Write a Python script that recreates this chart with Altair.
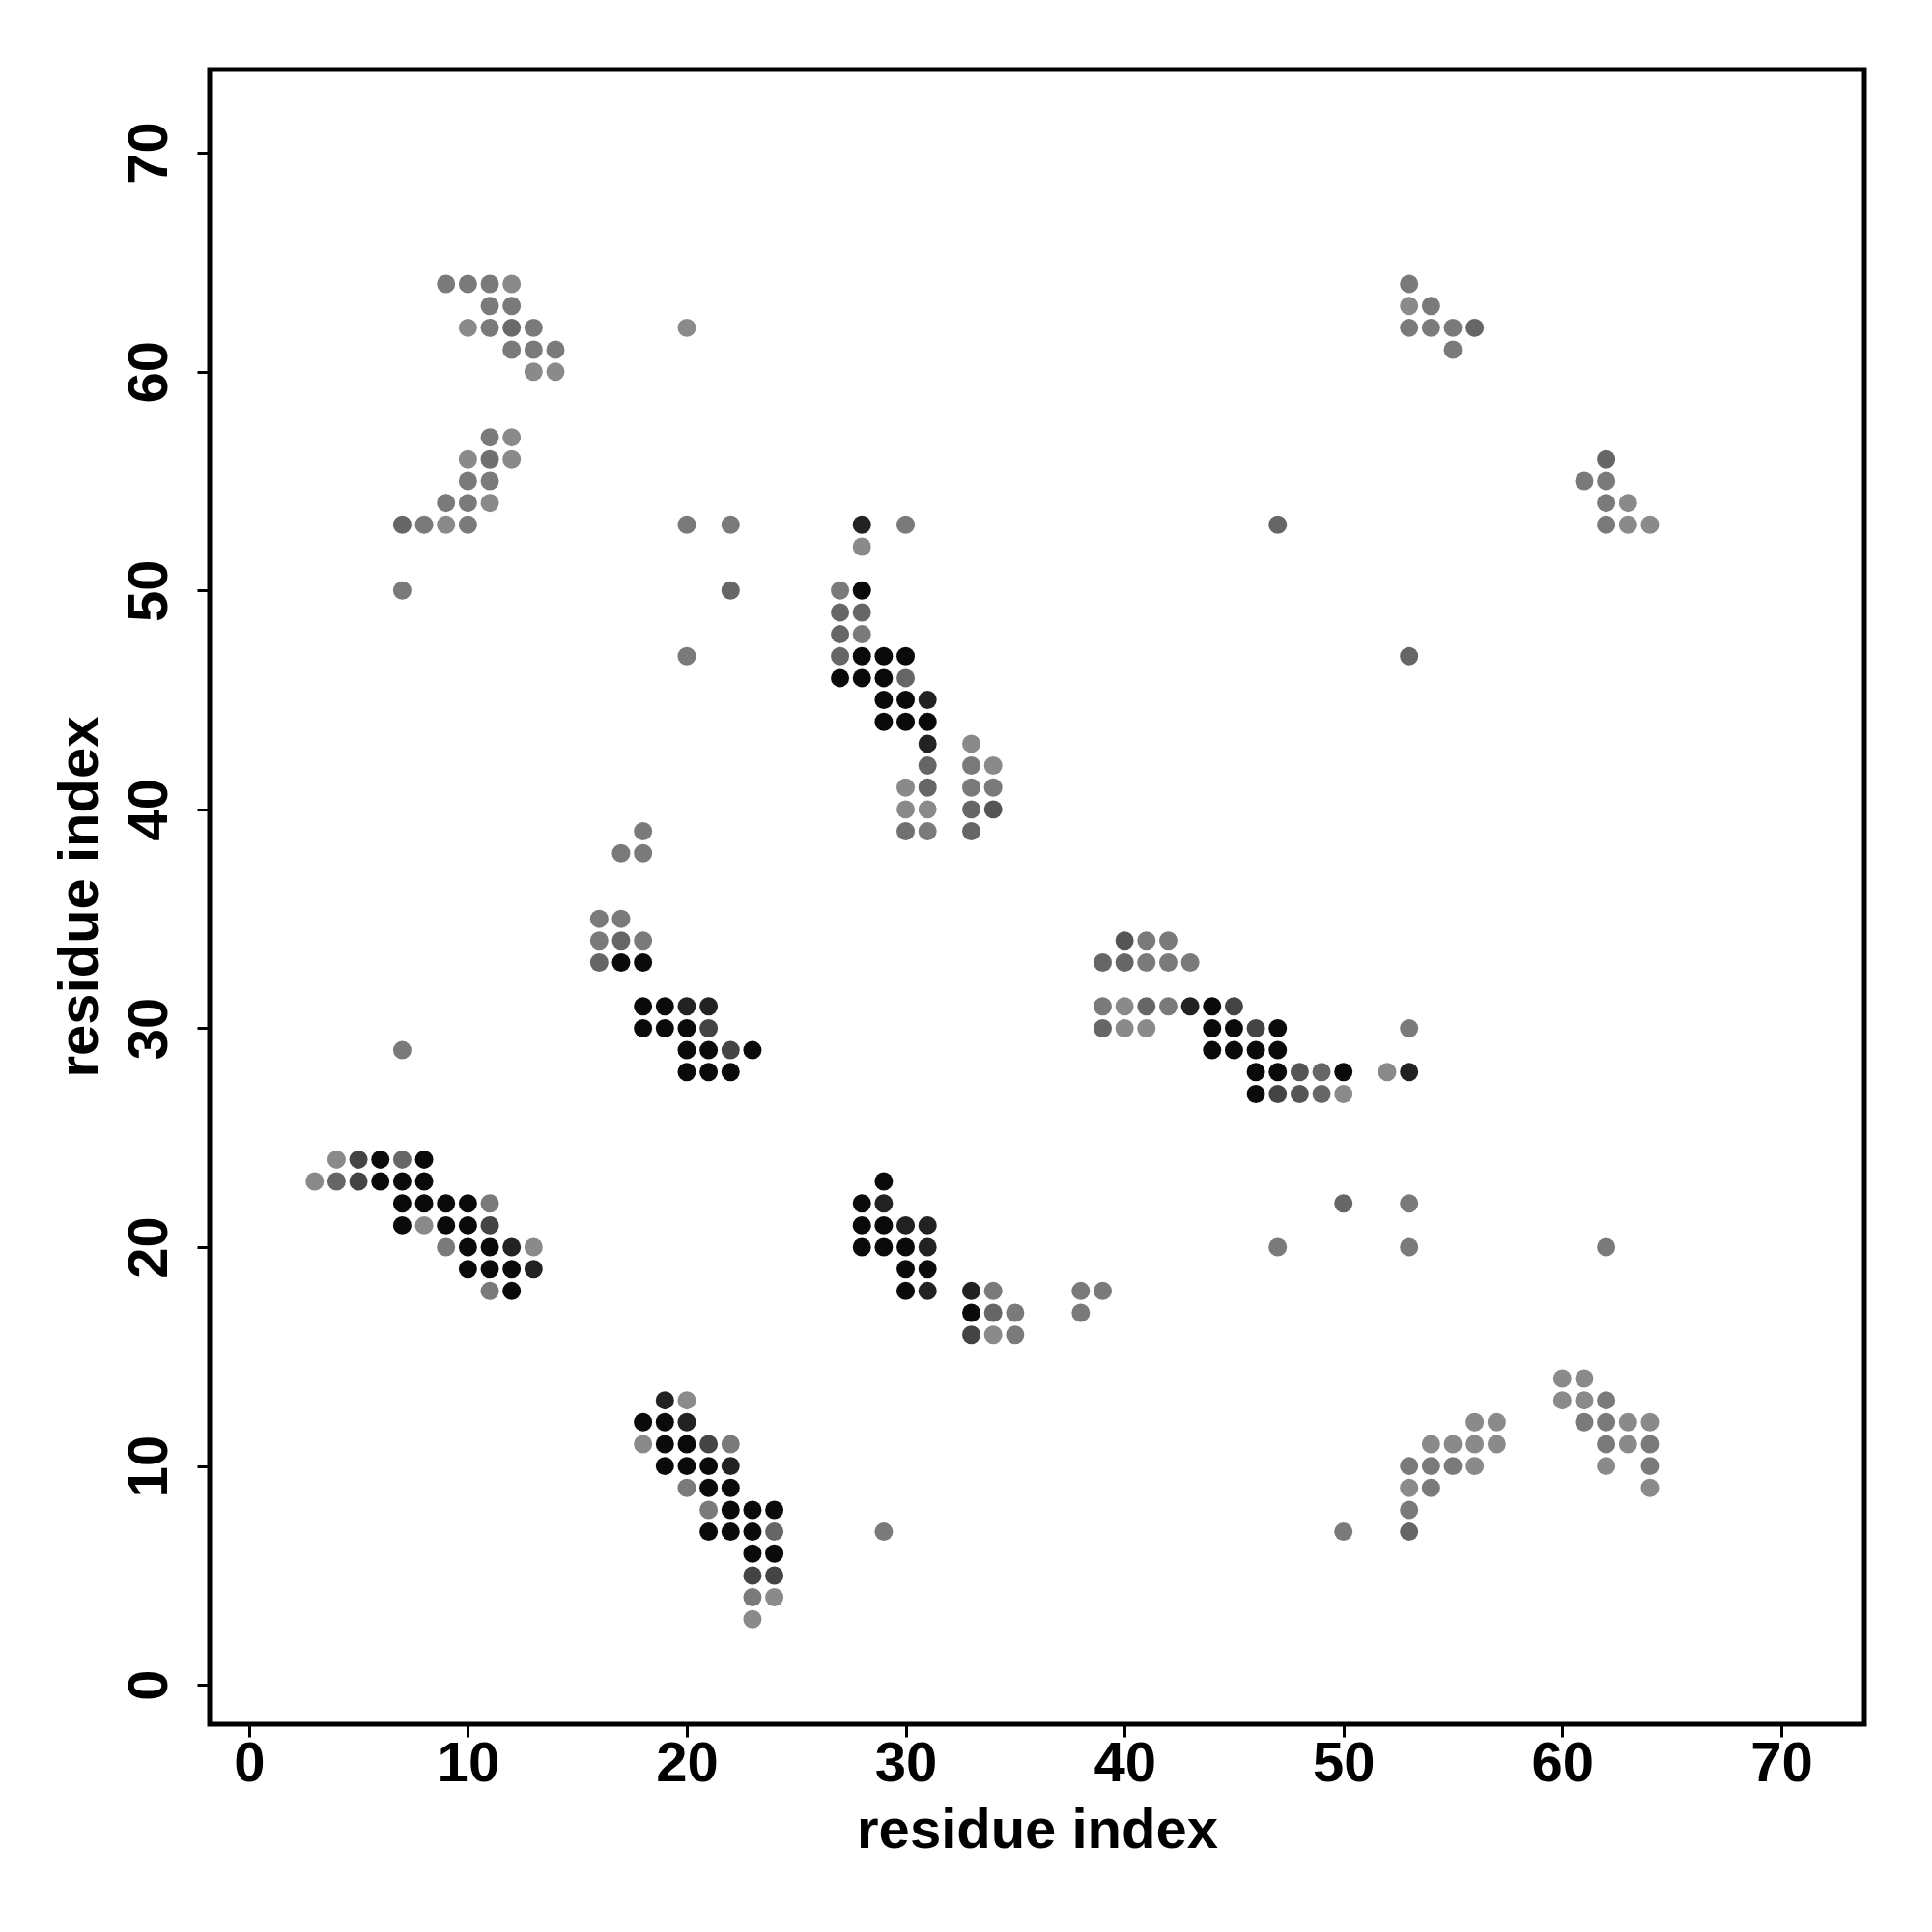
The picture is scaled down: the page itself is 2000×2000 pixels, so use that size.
import altair as alt
import pandas as pd

# gray levels (0 = black, 255 = white)
K, D1, D2, M, G, L = 10, 34, 68, 102, 122, 138

xs = [
    9, 10, 11, 12, 11, 12, 10, 11, 12, 13, 12, 13, 14, 13, 14,
    11, 12, 10, 11, 12, 10, 11, 9, 10, 11, 7, 8, 9, 10, 7,
    20, 20, 22, 22, 20, 7,
    53, 53, 54, 53, 54, 55, 56, 55,
    62, 61, 62, 62, 63, 62, 63, 64, 47, 53,
    28, 30, 28, 27, 28, 27, 28, 27, 28, 27, 28, 29, 30, 27, 28, 29, 30,
    29, 30, 31, 29, 30, 31, 31, 33, 31, 33, 34, 30, 31, 33, 34, 30, 31, 33, 34, 30, 31, 33,
    18, 17, 18, 16, 17, 16, 17, 18, 16, 17, 18,
    18, 19, 20, 21, 18, 19, 20, 21, 20, 21, 22, 23, 20, 21, 22,
    40, 41, 42, 39, 40, 41, 42, 43,
    39, 40, 41, 42, 43, 44, 45, 39, 40, 41, 44, 45, 46, 47,
    44, 45, 46, 47, 46, 47, 48, 49, 50, 46, 47, 48, 49, 50, 52, 53, 53,
    4, 5, 6, 7, 8, 3, 4, 5, 6, 7, 8,
    7, 8, 9, 10, 11, 7, 8, 9, 10, 11, 9, 10, 11, 12, 13, 10, 11, 12, 13, 11, 12,
    29, 28, 29, 28, 29, 30, 31, 28, 29, 30, 31, 30, 31, 30, 31,
    33, 34, 33, 34, 35, 33, 34, 35, 38, 39, 38,
    50, 53, 47, 53, 62, 29, 50,
    19, 20, 18, 19, 20, 18, 19, 20, 21, 22, 19, 20, 21, 22, 20, 21, 22,
    21, 22, 23, 24, 21, 22, 23, 24, 23, 24, 23, 24, 23, 24, 23,
    56, 57, 54, 55, 56, 57, 53, 54, 55, 56, 53, 54, 53, 53,
    60, 61, 60, 61, 62, 61, 62, 63, 64, 62, 63, 64, 62, 64, 64,
]
ys = [
    64, 64, 64, 64, 63, 63, 62, 62, 62, 62, 61, 61, 61, 60, 60,
    57, 57, 56, 56, 56, 55, 55, 54, 54, 54, 53, 53, 53, 53, 50,
    62, 53, 53, 50, 47, 29,
    64, 63, 63, 62, 62, 62, 62, 61,
    56, 55, 55, 54, 54, 53, 53, 53, 53, 47,
    53, 53, 52, 50, 50, 49, 49, 48, 48, 47, 47, 47, 47, 46, 46, 46, 46,
    45, 45, 45, 44, 44, 44, 43, 43, 42, 42, 42, 41, 41, 41, 41, 40, 40, 40, 40, 39, 39, 39,
    39, 38, 38, 35, 35, 34, 34, 34, 33, 33, 33,
    31, 31, 31, 31, 30, 30, 30, 30, 29, 29, 29, 29, 28, 28, 28,
    34, 34, 34, 33, 33, 33, 33, 33,
    31, 31, 31, 31, 31, 31, 31, 30, 30, 30, 30, 30, 30, 30,
    29, 29, 29, 29, 28, 28, 28, 28, 28, 27, 27, 27, 27, 27, 28, 28, 30,
    24, 24, 24, 24, 24, 23, 23, 23, 23, 23, 23,
    22, 22, 22, 22, 22, 21, 21, 21, 21, 21, 20, 20, 20, 20, 20, 19, 19, 19, 19, 18, 18,
    23, 22, 22, 21, 21, 21, 21, 20, 20, 20, 20, 19, 19, 18, 18,
    18, 18, 17, 17, 17, 16, 16, 16, 18, 18, 17,
    22, 22, 20, 20, 20, 7, 7,
    13, 13, 12, 12, 12, 11, 11, 11, 11, 11, 10, 10, 10, 10, 9, 9, 9,
    8, 8, 8, 8, 7, 7, 7, 7, 6, 6, 5, 5, 4, 4, 3,
    12, 12, 11, 11, 11, 11, 10, 10, 10, 10, 9, 9, 8, 7,
    14, 14, 13, 13, 13, 12, 12, 12, 12, 11, 11, 11, 10, 10, 9,
]
shade = [
    G, G, G, L, G, G, L, G, 106, G, G, G, G, L, L,
    G, L, L, 112, L, G, G, G, G, L, M, G, L, G, G,
    L, G, G, M, G, G,
    G, L, G, G, G, G, M, G,
    M, G, G, G, L, G, L, L, M, M,
    D1, G, L, G, K, M, M, M, G, M, K, K, K, K, K, K, M,
    K, K, D1, K, K, K, D1, L, M, G, L, L, M, G, G, L, L, M, 85, 112, G, M,
    G, G, G, G, G, G, M, G, M, K, K,
    K, K, D1, D1, K, K, K, D2, K, K, D2, K, K, K, K,
    85, G, G, M, M, G, G, G,
    G, L, M, G, D1, K, D2, M, L, L, K, K, D2, K,
    K, K, K, K, K, K, 85, M, K, K, D2, 85, M, L, L, D1, G,
    L, D2, K, M, K, L, M, D2, K, K, K,
    K, K, K, K, G, K, L, K, K, D2, G, K, K, D1, L, K, K, K, D1, G, K,
    K, K, D1, K, K, D1, D1, K, K, K, D1, K, K, K, D1,
    D1, G, K, M, G, D2, L, G, G, G, G,
    M, G, G, G, G, G, G,
    D1, L, K, K, D1, L, K, K, D2, G, K, K, K, D1, G, K, K,
    G, K, K, K, K, K, K, M, K, K, D2, D2, G, L, L,
    L, L, L, L, L, L, G, G, G, L, L, G, G, M,
    L, L, L, L, G, G, G, L, L, G, L, G, L, G, L,
]

tick_values = [0, 10, 20, 30, 40, 50, 60, 70]

df = pd.DataFrame({"x": xs, "y": ys, "shade": shade})

FONT = "Liberation Sans"

chart = (
    alt.Chart(df)
    .mark_circle(size=360, opacity=1)
    .encode(
        x=alt.X(
            "x:Q",
            scale=alt.Scale(domain=[-1.8, 73.8], nice=False, zero=False),
            axis=alt.Axis(
                title="residue index",
                values=tick_values,
                labelBaseline="alphabetic",
                labelPadding=45,
                titleY=127,
                titleBaseline="alphabetic",
            ),
        ),
        y=alt.Y(
            "y:Q",
            scale=alt.Scale(domain=[-1.8, 73.8], nice=False, zero=False),
            axis=alt.Axis(
                title="residue index",
                values=tick_values,
                labelAngle=-90,
                labelAlign="center",
                labelBaseline="alphabetic",
                labelPadding=32,
                titleAngle=270,
                titleX=-117,
                titleY=856,
                titleAlign="center",
                titleBaseline="alphabetic",
            ),
        ),
        color=alt.Color(
            "shade:Q",
            scale=alt.Scale(domain=[0, 255], range=["#000000", "#ffffff"], interpolate="rgb"),
            legend=None,
        ),
    )
    .properties(
        width=1713,
        height=1713,
        background="white",
        autosize=alt.AutoSizeParams(type="none"),
        padding={"left": 209, "top": 64, "right": 60, "bottom": 150},
    )
    .configure_view(stroke="black", strokeWidth=5, fill="white")
    .configure_axis(
        domain=False,
        grid=False,
        ticks=True,
        tickSize=13,
        tickWidth=3,
        tickColor="black",
        labelFont=FONT,
        labelFontWeight="bold",
        labelFontSize=58,
        labelColor="black",
        labelFlush=False,
        labelOverlap=False,
        titleFont=FONT,
        titleFontWeight="bold",
        titleFontSize=58,
        titleColor="black",
    )
)

chart.save("out.html", embed_options={"renderer": "svg", "actions": False})
